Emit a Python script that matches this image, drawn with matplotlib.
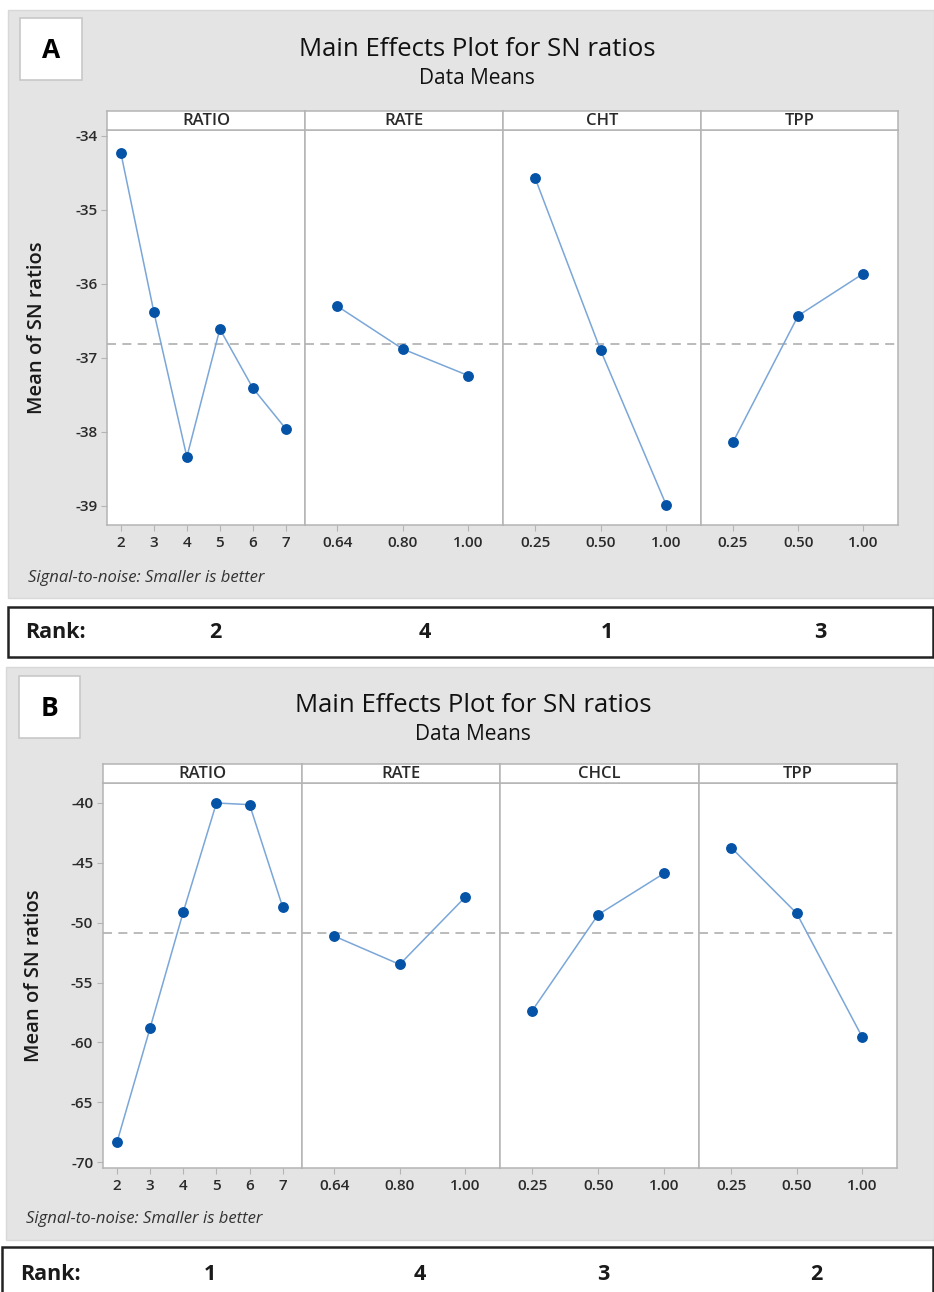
import matplotlib.pyplot as plt
from matplotlib.patches import Rectangle

plt.rcParams["font.family"] = ["Open Sans", "DejaVu Sans"]

W, H = 934, 1292

# ---- data ----
factors_a = ["RATIO", "RATE", "CHT", "TPP"]
factors_b = ["RATIO", "RATE", "CHCL", "TPP"]

levels = [
    ["2", "3", "4", "5", "6", "7"],
    ["0.64", "0.80", "1.00"],
    ["0.25", "0.50", "1.00"],
    ["0.25", "0.50", "1.00"],
]

sn_a = [
    [-34.23, -36.38, -38.34, -36.61, -37.41, -37.96],
    [-36.30, -36.88, -37.24],
    [-34.57, -36.90, -38.99],
    [-38.14, -36.43, -35.86],
]
sn_b = [
    [-68.36, -58.80, -49.11, -40.00, -40.14, -48.72],
    [-51.12, -53.49, -47.86],
    [-57.34, -49.33, -45.88],
    [-43.72, -49.22, -59.56],
]

rank_a = [2, 4, 1, 3]
rank_b = [1, 4, 3, 2]

yticks_a = [-34, -35, -36, -37, -38, -39]
yticks_b = [-40, -45, -50, -55, -60, -65, -70]

GRAY_BG = "#e4e4e4"
FRAME = "#b4b4b4"
LINE = "#7aa6d8"
DOT = "#0553a6"
DASH = "#b5b5b5"
TXT = "#2a2a2a"


def fbox(x0, y0, x1, y1):
    return [x0 / W, 1 - y1 / H, (x1 - x0) / W, (y1 - y0) / H]


def frect(fig, x0, y0, x1, y1, **kw):
    b = fbox(x0, y0, x1, y1)
    r = Rectangle((b[0], b[1]), b[2], b[3], transform=fig.transFigure, **kw)
    fig.patches.append(r)


def ftext(fig, x, y, s, **kw):
    fig.text(x / W, 1 - y / H, s, **kw)


def draw_chart(fig, letter, factors, values, ranks, yticks, ylim, geo):
    (bg, box, title_xy, xs, strip, bottom, ylab_x, note_y,
     rank_box, rank_y, rank_x) = geo

    frect(fig, *bg, facecolor=GRAY_BG, edgecolor="#d8d8d8", lw=1, zorder=-3)
    frect(fig, *box, facecolor="white", edgecolor="#c8c8c8", lw=1.2, zorder=-2)
    ftext(fig, (box[0] + box[2]) / 2, (box[1] + box[3]) / 2 + 1, letter,
          fontsize=19, fontweight="bold", ha="center", va="center")

    cx, ty = title_xy
    ftext(fig, cx, ty, "Main Effects Plot for SN ratios",
          fontsize=18.5, ha="center", va="center", color="#111111",
          fontweight="medium")
    ftext(fig, cx, ty + 29, "Data Means", fontsize=15, ha="center", va="center",
          color="#111111", fontweight="medium")

    grand = sum(sum(v) / len(v) for v in values) / len(values)

    for i, name in enumerate(factors):
        ax = fig.add_axes(fbox(xs[i], strip[1], xs[i + 1], bottom))
        ax.set_facecolor("white")
        vals = values[i]
        pos = list(range(len(vals)))
        ax.plot(pos, vals, color=LINE, lw=1.1, zorder=2)
        ax.plot(pos, vals, "o", color=DOT, ms=6.8, zorder=3)
        ax.axhline(grand, color=DASH, lw=1.3, ls=(0, (5, 3.5)), zorder=1)
        if len(vals) > 3:
            ax.set_xlim(-0.42, len(vals) - 0.42)
        else:
            ax.set_xlim(-0.49, len(vals) - 0.47)
        ax.set_ylim(*ylim)
        ax.set_xticks(pos)
        ax.set_xticklabels(levels[i], fontsize=11, color=TXT, fontweight="semibold")
        ax.set_yticks(yticks)
        if i == 0:
            ax.set_yticklabels([str(t) for t in yticks], fontsize=11, color=TXT,
                               fontweight="semibold")
            ax.set_ylabel("Mean of SN ratios", fontsize=14.5, color="#1a1a1a",
                          fontweight="semibold")
            ax.yaxis.set_label_coords((ylab_x - xs[0]) / (xs[1] - xs[0]), 0.5)
            ax.tick_params(axis="y", length=4, color=FRAME, pad=3)
        else:
            ax.tick_params(axis="y", left=False, labelleft=False)
        ax.tick_params(axis="x", length=4, color=FRAME, pad=4)
        for s in ax.spines.values():
            s.set_color(FRAME)
            s.set_linewidth(1.1)

        sax = fig.add_axes(fbox(xs[i], strip[0], xs[i + 1], strip[1]))
        sax.set_xticks([])
        sax.set_yticks([])
        for s in sax.spines.values():
            s.set_color(FRAME)
            s.set_linewidth(1.1)
        sax.text(0.5, 0.45, name, fontsize=12, ha="center", va="center",
                 transform=sax.transAxes, color=TXT, fontweight="semibold")

    ftext(fig, bg[0] + 20, note_y, "Signal-to-noise: Smaller is better",
          fontsize=12, style="italic", ha="left", va="center", color="#333333")

    frect(fig, *rank_box, facecolor="white", edgecolor="#222222", lw=1.8, zorder=-2)
    ftext(fig, rank_x[0], rank_y, "Rank:", fontsize=15.5, fontweight="bold",
          ha="left", va="center", color="#1a1a1a")
    for r, x in zip(ranks, rank_x[1:]):
        ftext(fig, x, rank_y, str(r), fontsize=15.5, fontweight="bold",
              ha="center", va="center", color="#1a1a1a")


fig = plt.figure(figsize=(W / 100, H / 100), dpi=100)
fig.patch.set_facecolor("white")

geo_a = (
    (8, 10, 934, 598),            # gray background
    (20, 18, 82, 80),             # letter box
    (477, 50),                    # title centre
    [107, 305, 503, 701, 898],    # panel edges
    (111, 130),                   # strip top / bottom
    525,                          # plot bottom
    47,                           # y label x
    578,                          # note y
    (8, 607, 933, 657),           # rank box
    633,                          # rank text y
    [25, 215, 425, 607, 820],     # rank text x
)
geo_b = (
    (6, 667, 934, 1240),
    (19, 676, 80, 738),
    (473, 706),
    [103, 302, 500, 699, 897],
    (764, 783),
    1168,
    44,
    1219,
    (2, 1247, 933, 1300),
    1275,
    [20, 210, 420, 603, 816],
)

draw_chart(fig, "A", factors_a, sn_a, rank_a, yticks_a, (-39.26, -33.92), geo_a)
draw_chart(fig, "B", factors_b, sn_b, rank_b, yticks_b, (-70.5, -38.33), geo_b)

fig.savefig("out.png", dpi=100)
